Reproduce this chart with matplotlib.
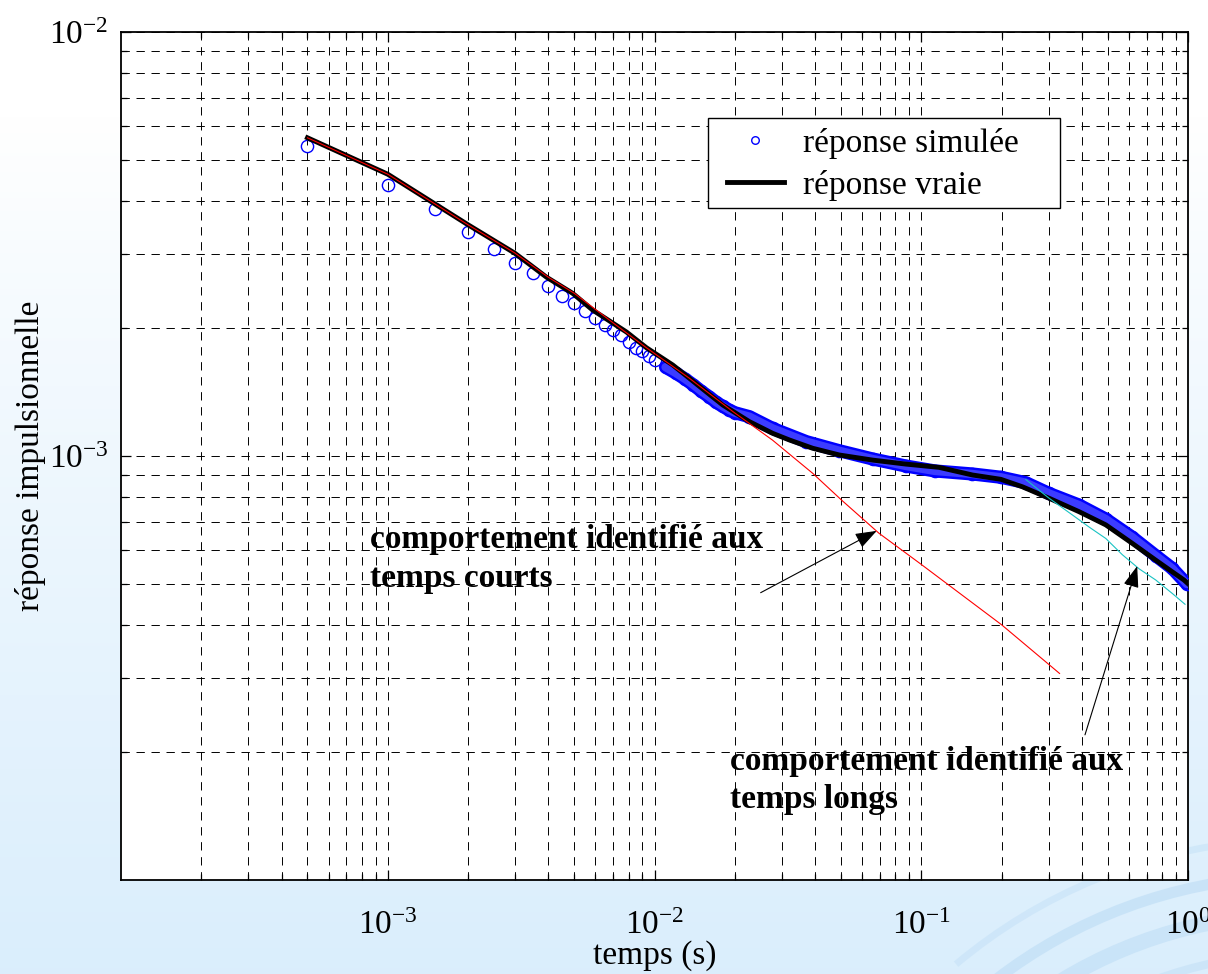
import numpy as np
import matplotlib
matplotlib.use('Agg')
import matplotlib.pyplot as plt
from matplotlib.ticker import LogLocator, NullFormatter, FixedLocator, FixedFormatter
from matplotlib.patches import Rectangle, Arc

plt.rcParams['font.family'] = ['Liberation Serif', 'DejaVu Serif']
plt.rcParams['mathtext.fontset'] = 'custom'
plt.rcParams['mathtext.rm'] = 'Liberation Serif'
plt.rcParams['mathtext.it'] = 'Liberation Serif:italic'
plt.rcParams['mathtext.bf'] = 'Liberation Serif:bold'
plt.rcParams['lines.scale_dashes'] = False

# ---------------- data ----------------
# simulated response (blue circles)
t_sim = [5e-4, 1e-3, 1.5e-3, 2e-3, 2.5e-3, 3e-3, 3.5e-3, 4e-3, 4.5e-3, 5e-3,
         5.5e-3, 6e-3, 6.5e-3, 7e-3, 7.5e-3, 8e-3, 8.5e-3, 9e-3, 9.5e-3, 1e-2,
         0.011, 0.012, 0.013, 0.014, 0.015, 0.016, 0.017, 0.018, 0.019, 0.020,
         0.0227, 0.0277, 0.0371, 0.0493, 0.0657, 0.0876, 0.1125, 0.1556, 0.1988,
         0.2466, 0.3015, 0.3906, 0.4918, 0.6187, 0.7568, 0.8733, 0.99]
y_sim = [5.39e-3, 4.36e-3, 3.82e-3, 3.38e-3, 3.08e-3, 2.85e-3, 2.70e-3, 2.52e-3, 2.39e-3, 2.29e-3,
         2.20e-3, 2.12e-3, 2.04e-3, 1.98e-3, 1.93e-3, 1.86e-3, 1.80e-3, 1.77e-3, 1.72e-3, 1.68e-3,
         1.62e-3, 1.57e-3, 1.52e-3, 1.47e-3, 1.42e-3, 1.38e-3, 1.34e-3, 1.31e-3, 1.285e-3, 1.265e-3,
         1.238e-3, 1.162e-3, 1.081e-3, 1.029e-3, 9.84e-4, 9.47e-4, 9.22e-4, 9.07e-4, 8.91e-4,
         8.65e-4, 8.16e-4, 7.66e-4, 7.10e-4, 6.43e-4, 5.82e-4, 5.43e-4, 4.99e-4]
dense_from = 0.011   # beyond this time the samples overlap into a continuous band

# true response (thick black line)
t_true = [5e-4, 1e-3, 2e-3, 2.99e-3, 3.94e-3, 4.93e-3, 5.86e-3, 6.96e-3, 7.86e-3, 9.33e-3,
          0.01171, 0.01352, 0.01561, 0.01803, 0.02269, 0.02773, 0.03203, 0.03916, 0.0493,
          0.06569, 0.08763, 0.1168, 0.1556, 0.1988, 0.2395, 0.3015, 0.3906, 0.4918,
          0.6187, 0.7568, 0.8733, 0.966, 1.0]
y_true = [5.63e-3, 4.62e-3, 3.51e-3, 3.01e-3, 2.64e-3, 2.42e-3, 2.21e-3, 2.06e-3, 1.96e-3, 1.80e-3,
          1.639e-3, 1.525e-3, 1.418e-3, 1.319e-3, 1.205e-3, 1.131e-3, 1.091e-3, 1.043e-3, 1.0055e-3,
          9.78e-4, 9.57e-4, 9.40e-4, 9.02e-4, 8.81e-4, 8.46e-4, 7.95e-4, 7.39e-4, 6.88e-4,
          6.22e-4, 5.68e-4, 5.33e-4, 5.10e-4, 5.00e-4]

# behaviour identified at short times (red)
t_short = [5e-4, 1e-3, 2e-3, 3e-3, 4e-3, 5e-3, 7e-3, 9.33e-3, 0.01352, 0.0197,
           0.0277, 0.0392, 0.0505, 0.0695, 0.0985, 0.2, 0.33]
y_short = [5.63e-3, 4.62e-3, 3.51e-3, 3.01e-3, 2.64e-3, 2.42e-3, 2.06e-3, 1.80e-3, 1.525e-3, 1.272e-3,
           1.09e-3, 9.10e-4, 7.85e-4, 6.57e-4, 5.59e-4, 4.0e-4, 3.07e-4]

# behaviour identified at long times (cyan)
t_long = [0.2466, 0.3015, 0.3687, 0.4257, 0.4918, 0.5674, 0.6554, 0.7568, 0.8733, 0.9746]
y_long = [8.8e-4, 7.95e-4, 7.26e-4, 6.80e-4, 6.39e-4, 5.85e-4, 5.42e-4, 5.10e-4, 4.74e-4, 4.47e-4]

x_ticks = [1e-3, 1e-2, 1e-1, 1e0]
x_ticklabels = [r'$\mathregular{10^{-3}}$', r'$\mathregular{10^{-2}}$',
                r'$\mathregular{10^{-1}}$', r'$\mathregular{10^{0}}$']
y_ticks = [1e-3, 1e-2]
y_ticklabels = [r'$\mathregular{10^{-3}}$', r'$\mathregular{10^{-2}}$']

# ---------------- figure ----------------
W, H = 1208, 974
fig = plt.figure(figsize=(W / 100, H / 100), dpi=100)

# slide-like background gradient with decorative arcs
bg = fig.add_axes([0, 0, 1, 1], zorder=-10)
bg.set_axis_off()
g = np.linspace(0, 1, 300)[:, None, None]
w = np.clip((g - 0.12) / 0.88, 0, 1) ** 0.9
top_c = np.array([1.0, 1.0, 1.0])[None, None, :]
bot_c = np.array([0.855, 0.933, 0.99])[None, None, :]
img = top_c * (1 - w) + bot_c * w
bg.imshow(img, aspect='auto', extent=[0, W, 0, H], origin='upper')
for r, lw_, a in [(420, 6, 0.45), (460, 11, 0.55), (498, 8, 0.6), (535, 5, 0.4)]:
    bg.add_patch(Arc((1300, -400), 2 * r, 2 * r, theta1=60, theta2=130,
                     color='#bcdcf5', lw=lw_, alpha=a))
bg.set_xlim(0, W)
bg.set_ylim(0, H)

L, R, T, B = 121, 1188, 32, 880
ax = fig.add_axes([L / W, 1 - B / H, (R - L) / W, (B - T) / H])
ax.set_facecolor('white')
ax.set_xscale('log')
ax.set_yscale('log')

t_sim_a = np.array(t_sim)
y_sim_a = np.array(y_sim)
m = t_sim_a >= dense_from

# blue circles
ax.plot(t_sim_a, y_sim_a, linestyle='none', marker='o', ms=8.8, mfc='none',
        mec='#0000ff', mew=1.0, zorder=3, label='réponse simulée')
# dense part of the sampled response: overlapping circles form a band
ax.plot(t_sim_a[m], y_sim_a[m], color='#0000ff', lw=9.5, solid_capstyle='round', zorder=3)
ax.plot(t_sim_a[m], y_sim_a[m], color='#3c3cff', lw=6.0, solid_capstyle='round', zorder=3)

# true response
ax.plot(t_true, y_true, color='k', lw=3.5, zorder=4, label='réponse vraie')
# identified behaviours
ax.plot(t_short, y_short, color='#ff0000', lw=0.8, zorder=5)
ax.plot(t_long, y_long, color='#19c3c3', lw=0.8, zorder=5)

ax.set_xlim(1e-4, 1)
ax.set_ylim(1e-4, 1e-2)

ax.xaxis.set_major_locator(FixedLocator(x_ticks))
ax.xaxis.set_major_formatter(FixedFormatter(x_ticklabels))
ax.yaxis.set_major_locator(FixedLocator(y_ticks))
ax.yaxis.set_major_formatter(FixedFormatter(y_ticklabels))
for axis in (ax.xaxis, ax.yaxis):
    axis.set_minor_locator(LogLocator(base=10, subs=np.arange(2, 10), numticks=30))
    axis.set_minor_formatter(NullFormatter())

ax.grid(True, which='both', color='k', lw=0.7, linestyle=(0, (6.0, 4.8)))
ax.set_axisbelow(True)
ax.tick_params(which='both', direction='in', top=True, right=True, width=0.9, colors='k')
ax.tick_params(which='major', length=7, labelsize=24)
ax.tick_params(axis='x', which='major', pad=22)
ax.tick_params(axis='y', which='major', pad=9)
ax.tick_params(which='minor', length=4)
for s in ax.spines.values():
    s.set_linewidth(1.3)

ax.set_xlabel('temps (s)', fontsize=24)
ax.xaxis.set_label_coords(0.5, (B - 940) / (B - T))
ax.set_ylabel('réponse impulsionnelle', fontsize=24)
ax.yaxis.set_label_coords((46 - L) / (R - L), 0.5)

# legend with a plain rectangular frame
def axfrac(px, py):
    return (px - L) / (R - L), (B - py) / (B - T)

x0, y0 = axfrac(708, 208)
x1, y1 = axfrac(1060, 118)
ax.add_patch(Rectangle((x0, y0), x1 - x0, y1 - y0, transform=ax.transAxes,
                       facecolor='white', edgecolor='k', lw=1.0, zorder=6))
lx, ly = axfrac(727, 128)
leg = ax.legend(loc='upper left', bbox_to_anchor=(lx, ly), frameon=False, fontsize=24,
                handlelength=1.7, handletextpad=0.58, borderpad=0, borderaxespad=0,
                labelspacing=0.32, markerscale=0.62)
leg.set_zorder(7)

# annotations
def figpos(px, py):
    return px / W, 1 - py / H

for (px, py), s in [((370, 548), 'comportement identifié aux'),
                    ((370, 587), 'temps courts'),
                    ((730, 770), 'comportement identifié aux'),
                    ((730, 808), 'temps longs')]:
    fx, fy = figpos(px, py)
    fig.text(fx, fy, s, fontsize=24, fontweight='bold', ha='left', va='baseline', zorder=8)

arrow = dict(arrowstyle='-|>,head_length=0.55,head_width=0.2', mutation_scale=24,
             color='k', lw=0.8, shrinkA=0, shrinkB=0)
ax.annotate('', xy=(0.0681, 6.66e-4), xytext=(0.025, 4.76e-4), arrowprops=arrow, zorder=8)
ax.annotate('', xy=(0.645, 5.50e-4), xytext=(0.411, 2.20e-4), arrowprops=arrow, zorder=8)

fig.savefig('out.png', dpi=100)
